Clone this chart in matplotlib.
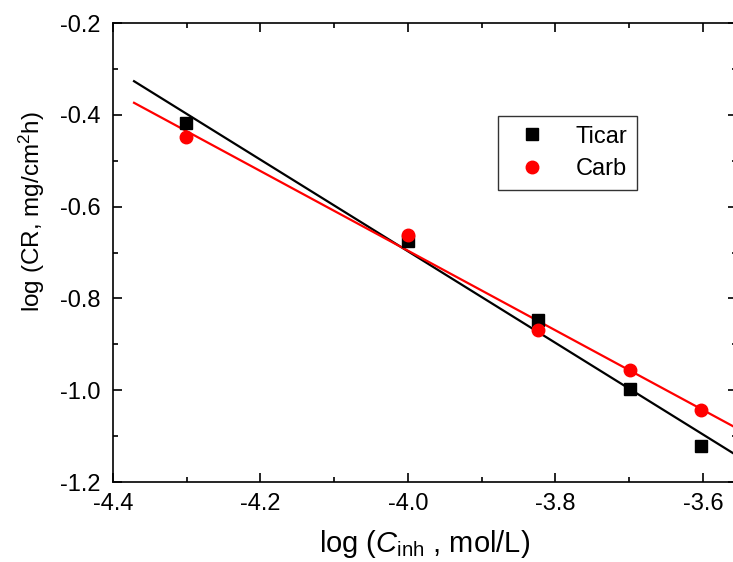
import matplotlib
matplotlib.use("Agg")
import matplotlib.pyplot as plt
import numpy as np
from matplotlib.ticker import MultipleLocator

plt.rcParams['font.family'] = ['Liberation Sans', 'DejaVu Sans']
plt.rcParams['mathtext.fontset'] = 'custom'
plt.rcParams['mathtext.rm'] = 'Liberation Sans'
plt.rcParams['mathtext.it'] = 'Liberation Sans:italic'
plt.rcParams['axes.unicode_minus'] = False

# log of inhibitor concentration
log_c = [-4.301, -4.0, -3.824, -3.699, -3.602]
# log of corrosion rate
ticar = [-0.418, -0.675, -0.847, -0.997, -1.122]
carb = [-0.448, -0.662, -0.869, -0.956, -1.043]

fig = plt.figure(figsize=(7.33, 5.62), dpi=100)
ax = fig.add_axes([0.1542, 0.1423, 0.851, 0.8167])

# linear fits
xfit = np.array([-4.3715, -3.50])
k1, b1 = np.polyfit(log_c, ticar, 1)
k2, b2 = np.polyfit(log_c, carb, 1)
ax.plot(xfit, k1 * xfit + b1, color='black', lw=1.6)
ax.plot(xfit, k2 * xfit + b2, color='red', lw=1.6)

ax.plot(log_c, ticar, 's', color='black', ms=8, label='Ticar', zorder=3)
ax.plot(log_c, carb, 'o', color='red', ms=9, label='Carb', zorder=3)

ax.set_xlim(-4.4, -3.554)
ax.set_ylim(-1.2, -0.2)
ax.xaxis.set_major_locator(MultipleLocator(0.2))
ax.xaxis.set_minor_locator(MultipleLocator(0.1))
ax.yaxis.set_major_locator(MultipleLocator(0.2))
ax.yaxis.set_minor_locator(MultipleLocator(0.1))
ax.xaxis.set_major_formatter(matplotlib.ticker.FormatStrFormatter('%.1f'))
ax.yaxis.set_major_formatter(matplotlib.ticker.FormatStrFormatter('%.1f'))
ax.tick_params(which='both', direction='in', top=True, right=True, width=1.2)
ax.tick_params(which='major', length=6.5, labelsize=17)
ax.tick_params(axis='x', which='major', pad=8)
ax.tick_params(axis='y', which='major', pad=9)
ax.tick_params(which='minor', length=3.6)
for s in ax.spines.values():
    s.set_linewidth(1.2)

ax.set_xlabel(r'log ($C_{\rm inh}$ , mol/L)', fontsize=21, labelpad=9)
ax.set_ylabel(r'log (CR, mg/cm$^2$h)', fontsize=17.5)
ax.yaxis.set_label_coords(-0.106, 0.59)

leg = ax.legend(loc='upper left', bbox_to_anchor=(0.617, 0.797), fontsize=17,
                frameon=True, fancybox=False, edgecolor='black', handlelength=2.1,
                handletextpad=0.8, labelspacing=0.45, borderpad=0.4, borderaxespad=0)
leg.get_frame().set_linewidth(1.0)

fig.savefig('out.png', dpi=100)
